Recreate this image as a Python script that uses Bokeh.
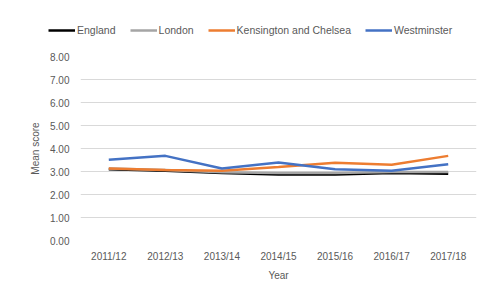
from bokeh.plotting import figure
from bokeh.layouts import column
from bokeh.models import Legend, LegendItem, FactorRange, CustomJSTickFormatter, Range1d
from bokeh.embed import file_html
from bokeh.resources import INLINE

years = ["2011/12", "2012/13", "2013/14", "2014/15", "2015/16", "2016/17", "2017/18"]
england = [3.10, 3.03, 2.93, 2.87, 2.87, 2.93, 2.90]
london = [3.13, 3.06, 2.97, 2.94, 2.94, 2.98, 2.98]
kensington = [3.13, 3.07, 3.03, 3.20, 3.38, 3.29, 3.68]
westminster = [3.51, 3.68, 3.13, 3.39, 3.10, 3.03, 3.32]
y_ticks = [0, 1, 2, 3, 4, 5, 6, 7, 8]

FONT = "Liberation Sans"
TXT = "#595959"
series = [("England", england, "#000000"), ("London", london, "#a5a5a5"),
          ("Kensington and Chelsea", kensington, "#ed7d31"), ("Westminster", westminster, "#4472c4")]

# legend strip (series drawn off-range, only their legend entries show)
pl = figure(width=480, height=44, x_range=FactorRange(*years), y_range=Range1d(100, 144),
            output_backend="svg", toolbar_location=None, x_axis_type=None, y_axis_type=None,
            min_border_left=0, min_border_right=0, min_border_top=0, min_border_bottom=0)
pl.outline_line_color = None
pl.xgrid.visible = False
pl.ygrid.visible = False
items = []
for name, vals, col in series:
    r = pl.line(years, vals, line_color=col, line_width=2.5)
    items.append(LegendItem(label=name, renderers=[r]))
legend = Legend(items=items, orientation="horizontal", location=(48, 8))
legend.label_text_font = FONT
legend.label_text_font_size = "10.5px"
legend.label_text_color = TXT
legend.glyph_width = 27
legend.glyph_height = 10
legend.label_standoff = 2
legend.spacing = 14
legend.padding = 0
legend.margin = 0
legend.border_line_color = None
legend.background_fill_alpha = 0
pl.add_layout(legend)

# main chart
p = figure(width=480, height=252, x_range=FactorRange(*years, range_padding=0),
           y_range=Range1d(0, 8), output_backend="svg", toolbar_location=None,
           min_border_left=80, min_border_right=4, min_border_top=12, min_border_bottom=56)
p.outline_line_color = None
p.background_fill_color = "white"
p.border_fill_color = "white"
for name, vals, col in series:
    p.line(years, vals, line_color=col, line_width=2.5)

p.yaxis.ticker = y_ticks
p.yaxis.formatter = CustomJSTickFormatter(code="return tick.toFixed(2);")
p.yaxis.axis_label = "Mean score"
p.xaxis.axis_label = "Year"
for ax in (p.xaxis, p.yaxis):
    ax.axis_line_color = None
    ax.major_tick_line_color = None
    ax.minor_tick_line_color = None
    ax.major_label_text_font = FONT
    ax.major_label_text_font_size = "10px"
    ax.major_label_text_color = TXT
    ax.axis_label_text_font = FONT
    ax.axis_label_text_font_size = "10px"
    ax.axis_label_text_color = TXT
    ax.axis_label_text_font_style = "normal"
p.yaxis.major_label_standoff = 5
p.xaxis.major_label_standoff = 4
p.yaxis.axis_label_standoff = 6
p.xaxis.axis_label_standoff = 5
p.xgrid.grid_line_color = None
p.ygrid.grid_line_color = "#d9d9d9"
p.ygrid.grid_line_width = 1

for fig in (pl, p):
    if hasattr(fig, "frame_align"):
        fig.frame_align = False

layout = column(pl, p, spacing=0)
open("out.html", "w").write(file_html(layout, INLINE))
